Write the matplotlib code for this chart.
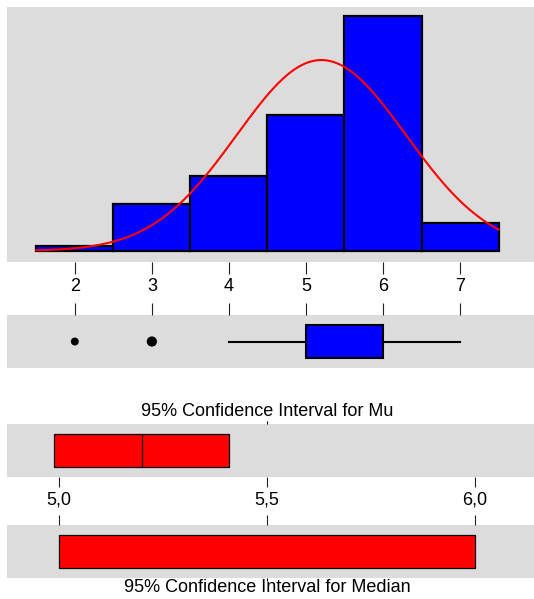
import matplotlib.pyplot as plt
import numpy as np

plt.rcParams['font.family'] = ['Liberation Sans', 'DejaVu Sans']
plt.rcParams['font.size'] = 13

# histograma (classes de largura 1)
bin_centers = [2, 3, 4, 5, 6, 7]
counts = [1, 10, 16, 29, 50, 6]

# curva normal ajustada
mean = 5.2
std = 1.1
n_obs = sum(counts)

# boxplot
box_q1 = 5.0
box_med = 5.5
box_q3 = 6.0
whisker_lo = 4.0
whisker_hi = 7.0
outliers = [2.0, 3.0]

# intervalos de confiança de 95%
mu_ci = [4.99, 5.41]
median_ci = [5.0, 6.0]
ci_ticks = [5.0, 5.5, 6.0]
ci_tick_labels = ['5,0', '5,5', '6,0']

bg = '#dcdcdc'
W, H = 534, 599

fig = plt.figure(figsize=(W / 100, H / 100), dpi=100)

def panel(top, bottom):
    # cria eixo a partir de coordenadas em pixels
    ax = fig.add_axes([7 / W, 1 - bottom / H, (W - 7) / W, (bottom - top) / H])
    ax.set_facecolor(bg)
    for s in ax.spines.values():
        s.set_visible(False)
    ax.set_yticks([])
    return ax

#1. histograma com curva normal
ax1 = panel(7, 262)
ax1.bar(bin_centers, counts, width=1.0, color='blue', edgecolor='black', linewidth=1.6)
xs = np.linspace(1.5, 7.5, 300)
ys = n_obs / (std * np.sqrt(2 * np.pi)) * np.exp(-(xs - mean) ** 2 / (2 * std ** 2))
ax1.plot(xs, ys, color='red', linewidth=1.5)
ax1.set_xlim(1.12, 7.96)
ax1.set_ylim(-2.34, 51.9)
ax1.set_xticks(bin_centers)
ax1.tick_params(axis='x', direction='out', length=8.6, width=0.8, pad=3, color='#222222')

#2. boxplot
ax2 = panel(315, 368)
stats = [dict(q1=box_q1, med=box_med, q3=box_q3, whislo=whisker_lo, whishi=whisker_hi, fliers=[])]
ax2.bxp(stats, vert=False, positions=[0], widths=0.64, patch_artist=True, showcaps=False,
        boxprops=dict(facecolor='blue', edgecolor='black', linewidth=1.5),
        whiskerprops=dict(color='black', linewidth=1.5),
        medianprops=dict(visible=False))
ax2.scatter(outliers, [0, 0], s=[22, 40], color='black', zorder=3)
ax2.set_yticks([])
ax2.set_xlim(ax1.get_xlim())
ax2.set_ylim(-0.5, 0.5)
ax2.set_xticks(bin_centers)
ax2.xaxis.tick_top()
ax2.tick_params(axis='x', direction='out', length=8.6, width=0.8, labeltop=False, color='#222222')

#3. intervalo de confiança para a média
ax3 = panel(424, 477)
ax3.barh(0, mu_ci[1] - mu_ci[0], left=mu_ci[0], height=0.64, color='red', edgecolor='black', linewidth=0.9)
ax3.plot([mean, mean], [-0.32, 0.32], color='black', linewidth=0.9)
ax3.set_xlim(4.876, 6.143)
ax3.set_ylim(-0.5, 0.5)
ax3.set_xticks(ci_ticks, ci_tick_labels)
ax3.tick_params(axis='x', direction='out', length=7.2, width=0.8, pad=3, color='#222222')
top3 = ax3.secondary_xaxis('top')
top3.set_xticks([5.5], [''])
top3.tick_params(length=2.5, width=0.8)
for s in top3.spines.values():
    s.set_visible(False)

#4. intervalo de confiança para a mediana
ax4 = panel(525, 578)
ax4.barh(0, median_ci[1] - median_ci[0], left=median_ci[0], height=0.64, color='red', edgecolor='black', linewidth=0.9)
ax4.set_xlim(ax3.get_xlim())
ax4.set_ylim(-0.5, 0.5)
ax4.set_xticks(ci_ticks)
ax4.xaxis.tick_top()
ax4.tick_params(axis='x', direction='out', length=7.2, width=0.8, labeltop=False, color='#222222')
bot4 = ax4.secondary_xaxis('bottom')
bot4.set_xticks([5.5], [''])
bot4.tick_params(length=2.5, width=0.8)
for s in bot4.spines.values():
    s.set_visible(False)

# títulos
fig.text(267 / W, 1 - 411 / H, '95% Confidence Interval for Mu', ha='center', va='center')
fig.text(267 / W, 1 - 587 / H, '95% Confidence Interval for Median', ha='center', va='center')

fig.savefig('out.png', dpi=100)
